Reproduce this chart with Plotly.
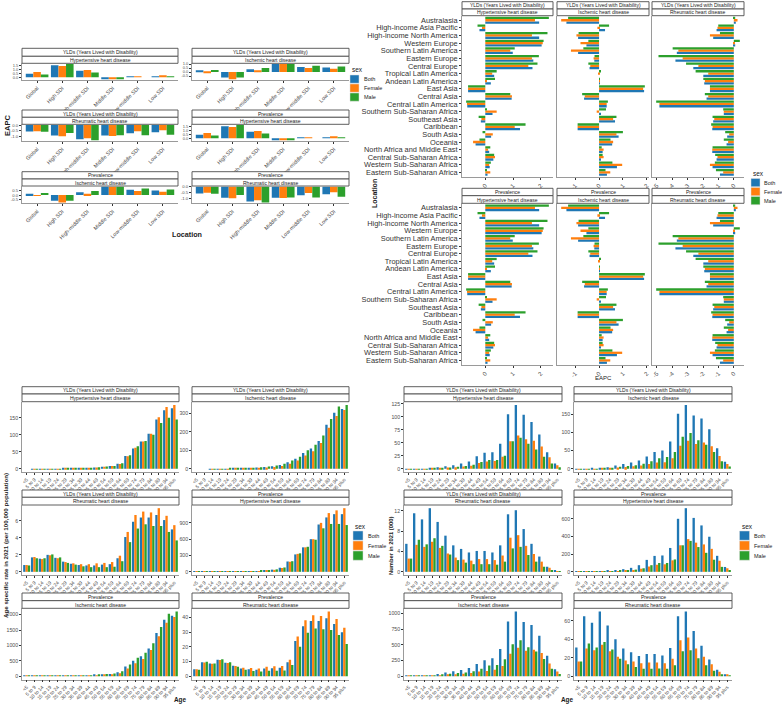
import plotly.graph_objects as go
import numpy as np

W, H = 782, 705
FONT = "Liberation Sans, Arial, Helvetica, sans-serif"
SEX = ["Both", "Female", "Male"]
SEX_COLORS = ["#1F77B4", "#FF7F0E", "#2CA02C"]

# ---------------- Panel A : EAPC by SDI ----------------
SDI = ["Global", "High SDI", "High-middle SDI", "Middle SDI", "Low-middle SDI", "Low SDI"]
a_yld_hhd_both = [0.45, 1.50, 0.80, -0.25, 0.05, 0.10]
a_yld_hhd_female = [0.65, 1.40, 0.90, -0.25, 0.10, 0.20]
a_yld_hhd_male = [0.35, 1.65, 0.60, -0.25, 0.00, 0.05]
a_yld_ihd_both = [0.15, -0.68, 0.34, 1.00, 0.64, 0.56]
a_yld_ihd_female = [-0.05, -0.90, 0.15, 1.00, 0.50, 0.41]
a_yld_ihd_male = [0.26, -0.68, 0.50, 1.00, 0.79, 0.68]
a_yld_rhd_both = [-0.55, -0.90, -1.22, -0.90, -0.70, -0.62]
a_yld_rhd_female = [-0.52, -0.95, -1.12, -0.93, -0.52, -0.45]
a_yld_rhd_male = [-0.57, -0.68, -1.30, -0.88, -0.88, -0.82]
a_prev_hhd_both = [0.45, 1.50, 0.80, -0.25, 0.05, 0.10]
a_prev_hhd_female = [0.65, 1.40, 0.90, -0.25, 0.10, 0.20]
a_prev_hhd_male = [0.35, 1.65, 0.60, -0.25, 0.00, 0.05]
a_prev_ihd_both = [0.15, -0.68, 0.34, 1.00, 0.64, 0.56]
a_prev_ihd_female = [-0.05, -0.90, 0.15, 1.00, 0.50, 0.41]
a_prev_ihd_male = [0.26, -0.68, 0.50, 1.00, 0.79, 0.68]
a_prev_rhd_both = [-0.55, -0.90, -1.22, -0.90, -0.70, -0.62]
a_prev_rhd_female = [-0.50, -0.95, -1.12, -0.93, -0.52, -0.45]
a_prev_rhd_male = [-0.57, -0.68, -1.30, -0.88, -0.88, -0.82]

# ---------------- Panel B : EAPC by region ----------------
REGIONS = ["Australasia", "High-income Asia Pacific", "High-income North America", "Western Europe",
           "Southern Latin America", "Eastern Europe", "Central Europe", "Tropical Latin America",
           "Andean Latin America", "East Asia", "Central Asia", "Central Latin America",
           "Southern Sub-Saharan Africa", "Southeast Asia", "Caribbean", "South Asia", "Oceania",
           "North Africa and Middle East", "Central Sub-Saharan Africa", "Western Sub-Saharan Africa",
           "Eastern Sub-Saharan Africa"]
b_hhd_both = [1.94, -0.21, 1.94, 2.03, 0.99, 1.73, 1.70, 0.32, 0.20, -0.62, 0.95, -0.65, 0.26, -0.16, 1.25, 0.21, -0.35, 0.14, 0.29, 0.16, 0.08]
b_hhd_female = [1.79, -0.12, 1.68, 2.07, 0.90, 1.68, 1.55, 0.25, 0.06, -0.62, 0.96, -0.66, 0.41, -0.14, 1.06, 0.27, -0.44, 0.10, 0.35, 0.14, 0.18]
b_hhd_male = [2.29, -0.28, 2.24, 2.10, 1.06, 1.93, 1.88, 0.41, 0.35, -0.62, 0.90, -0.69, 0.06, -0.24, 1.45, -0.10, -0.21, 0.18, 0.32, 0.20, 0.06]
b_ihd_both = [-1.37, 0.25, -0.88, -0.53, -0.88, -0.20, -0.40, 0.00, 0.02, 1.89, -0.63, 0.32, 0.07, 0.67, -0.90, 0.82, 0.55, 0.15, 0.07, 0.75, 0.33]
b_ihd_female = [-1.59, -0.07, -0.95, -0.78, -1.18, -0.23, -0.37, -0.03, 0.01, 1.85, -0.60, 0.32, -0.10, 0.59, -0.90, 0.73, 0.59, 0.19, 0.19, 0.97, 0.47]
b_ihd_male = [-1.30, 0.42, -0.86, -0.45, -0.66, -0.19, -0.45, 0.04, 0.02, 1.92, -0.71, 0.37, 0.29, 0.73, -0.90, 1.00, 0.48, 0.11, 0.15, 0.56, 0.27]
b_rhd_both = [0.13, -1.12, -1.34, 0.09, -3.70, -3.79, -2.63, -1.98, -1.92, -1.55, -1.77, -4.83, -0.65, -1.34, -1.40, -0.43, -0.47, -1.40, -1.12, -1.38, -0.90]
b_rhd_female = [0.24, -1.06, -1.55, 0.04, -3.60, -3.32, -2.30, -1.66, -1.88, -1.55, -1.66, -4.83, -0.65, -1.27, -1.38, -0.30, -0.37, -1.40, -1.06, -1.55, -0.69]
b_rhd_male = [0.09, -1.01, -0.90, 0.39, -3.97, -4.89, -3.10, -2.48, -1.98, -1.55, -1.88, -5.04, -0.69, -1.38, -1.47, -0.56, -0.65, -1.38, -1.21, -1.23, -1.16]

# ---------------- Panels C and D : by age ----------------
AGES = ["<5", "5 to 9", "10 to 14", "15 to 19", "20 to 24", "25 to 29", "30 to 34", "35 to 39",
        "40 to 44", "45 to 49", "50 to 54", "55 to 59", "60 to 64", "65 to 69", "70 to 74",
        "75 to 79", "80 to 84", "85 to 89", "90 to 94", "95 plus"]
# rates per 100,000
c_yld_hhd_both = [0.02, 0.03, 0.05, 0.1, 0.2, 0.4, 0.8, 1.5, 2.5, 4, 6, 8, 15, 38, 60, 80, 103, 145, 172, 178]
c_yld_hhd_female = [0.02, 0.03, 0.05, 0.1, 0.2, 0.4, 0.8, 1.5, 2.5, 4, 6, 8, 14, 37, 62, 80, 103, 152, 182, 188]
c_yld_hhd_male = [0.02, 0.03, 0.05, 0.1, 0.2, 0.4, 0.8, 1.5, 2.6, 4.5, 6.5, 8.5, 16, 40, 66, 82, 100, 135, 150, 145]
c_yld_ihd_both = [0.05, 0.05, 0.1, 0.2, 0.5, 1, 2, 4, 7, 10, 14, 20, 35, 55, 85, 110, 150, 238, 304, 324]
c_yld_ihd_female = [0.05, 0.05, 0.1, 0.2, 0.4, 0.8, 1.5, 3, 5, 7, 10, 15, 28, 45, 72, 95, 140, 222, 286, 319]
c_yld_ihd_male = [0.05, 0.05, 0.1, 0.2, 0.6, 1.2, 2.5, 5, 9, 13, 18, 27, 45, 65, 100, 130, 180, 270, 337, 346]
c_yld_rhd_both = [0.8, 1.7, 1.55, 2.0, 1.65, 1.2, 0.95, 0.8, 0.75, 0.75, 0.85, 0.9, 1.6, 4.1, 5.9, 6.4, 6.4, 6.7, 6.1, 5.0]
c_yld_rhd_female = [0.8, 1.75, 1.5, 1.95, 1.6, 1.15, 1.0, 0.9, 0.9, 1.0, 1.05, 1.15, 1.9, 4.7, 6.7, 7.1, 7.0, 7.5, 6.6, 5.5]
c_yld_rhd_male = [0.75, 1.6, 1.6, 2.05, 1.7, 1.05, 0.85, 0.65, 0.55, 0.55, 0.55, 0.6, 1.25, 3.5, 5.1, 5.6, 5.4, 5.4, 4.7, 3.7]
c_prev_hhd_both = [0.1, 0.1, 0.2, 0.5, 1, 2, 4, 8, 15, 25, 40, 75, 190, 320, 450, 600, 870, 1000, 1060, 1060]
c_prev_hhd_female = [0.1, 0.1, 0.2, 0.4, 1, 2, 3.5, 7, 13, 22, 36, 70, 185, 330, 450, 600, 900, 1080, 1130, 1170]
c_prev_hhd_male = [0.1, 0.1, 0.2, 0.5, 1, 2, 4.5, 9, 17, 28, 45, 80, 195, 340, 460, 590, 800, 880, 880, 860]
c_prev_ihd_both = [0.5, 0.5, 0.6, 1, 2, 4, 7, 12, 20, 35, 55, 70, 130, 320, 500, 650, 900, 1400, 1830, 1960]
c_prev_ihd_female = [0.5, 0.5, 0.6, 0.8, 1.5, 3, 5, 8, 15, 25, 40, 55, 100, 250, 420, 560, 850, 1300, 1740, 1920]
c_prev_ihd_male = [0.5, 0.5, 0.6, 1.2, 2.5, 5, 9, 15, 28, 45, 70, 90, 160, 380, 600, 760, 1070, 1600, 2030, 2100]
c_prev_rhd_both = [4.7, 9.5, 8.6, 11.2, 9.2, 7.2, 5.3, 4.8, 4.4, 5.2, 5.5, 5.8, 9.5, 24, 34, 37.5, 37.5, 39.5, 35.5, 30]
c_prev_rhd_female = [4.8, 9.3, 8.5, 11.1, 9.0, 7.0, 5.8, 5.6, 5.3, 6.4, 6.8, 7.0, 11.2, 27, 38, 41.5, 41, 44, 39, 33]
c_prev_rhd_male = [4.5, 9.9, 8.7, 11.6, 9.5, 6.5, 4.5, 3.6, 3.3, 3.8, 3.8, 4.0, 7.6, 20, 29.5, 32.5, 32, 31.5, 28, 22]
# numbers in thousands
d_yld_hhd_both = [0.05, 0.05, 0.2, 1, 3, 5, 7, 10, 14, 24, 31, 32, 48, 105, 123, 104, 90, 66, 32, 10]
d_yld_hhd_female = [0.02, 0.02, 0.1, 0.5, 1.3, 2.3, 3, 4.5, 6, 11, 14, 15, 23, 53, 64, 57, 54, 43, 22, 7]
d_yld_hhd_male = [0.03, 0.03, 0.1, 0.5, 1.7, 2.7, 4, 5.5, 8, 13, 17, 17, 25, 53, 60, 48, 37, 23, 10, 3]
d_yld_ihd_both = [0.2, 0.2, 0.3, 1, 4, 9, 13, 17, 23, 34, 46, 50, 75, 151, 175, 146, 138, 108, 56, 19]
d_yld_ihd_female = [0.1, 0.1, 0.1, 0.4, 1.5, 3.5, 5, 7, 9, 13, 17, 18, 29, 63, 77, 68, 72, 62, 35, 13]
d_yld_ihd_male = [0.1, 0.1, 0.2, 0.6, 2.5, 5.5, 8, 10, 14, 21, 29, 32, 46, 88, 98, 78, 66, 46, 21, 6]
d_yld_rhd_both = [5.5, 11.5, 10.3, 12.5, 9.8, 7.1, 5.2, 4.5, 3.8, 4.1, 4.1, 3.8, 5.2, 11.3, 12.1, 8.4, 5.5, 3.0, 1.0, 0.2]
d_yld_rhd_female = [2.6, 5.3, 4.9, 5.9, 4.7, 3.6, 2.8, 2.4, 2.2, 2.5, 2.5, 2.3, 3.2, 6.7, 7.2, 5.1, 3.5, 2.0, 0.8, 0.15]
d_yld_rhd_male = [2.6, 6.3, 5.4, 6.6, 5.1, 3.4, 2.3, 1.8, 1.5, 1.5, 1.5, 1.4, 2.0, 4.6, 4.9, 3.3, 2.0, 1.0, 0.3, 0.05]
d_prev_hhd_both = [0.1, 0.1, 0.5, 3, 10, 18, 30, 45, 75, 135, 180, 185, 270, 600, 720, 610, 525, 397, 181, 55]
d_prev_hhd_female = [0.05, 0.05, 0.2, 1.3, 4, 8, 13, 20, 35, 60, 80, 85, 130, 300, 370, 330, 310, 260, 125, 40]
d_prev_hhd_male = [0.05, 0.05, 0.3, 1.7, 6, 10, 17, 25, 40, 75, 100, 100, 140, 300, 350, 280, 215, 137, 56, 15]
d_prev_ihd_both = [3, 3, 5, 10, 35, 60, 80, 100, 130, 195, 255, 285, 435, 870, 1030, 865, 815, 645, 325, 110]
d_prev_ihd_female = [1.5, 1.5, 2.5, 4, 13, 20, 30, 40, 50, 75, 85, 105, 165, 360, 455, 405, 420, 370, 205, 75]
d_prev_ihd_male = [1.5, 1.5, 2.5, 6, 22, 40, 50, 60, 80, 120, 170, 180, 270, 510, 575, 460, 395, 275, 120, 35]
d_prev_rhd_both = [31, 65, 58, 70, 55, 40, 30, 26, 22, 24, 24, 22.5, 30.5, 65, 70, 49, 33, 18, 7, 2]
d_prev_rhd_female = [16, 30, 28, 34, 27, 21, 17, 16, 14, 15, 15, 14, 19, 39, 42, 30, 21, 13, 5, 1.5]
d_prev_rhd_male = [16, 35.5, 31, 37, 29, 19, 13, 10, 8, 8, 8.5, 8, 12, 27, 28, 19.5, 12, 6, 2, 0.5]

YLD = "YLDs (Years Lived with Disability)"
PREV = "Prevalence"
HHD = "Hypertensive heart disease"
IHD = "Ischemic heart disease"
RHD = "Rheumatic heart disease"

# ---------------------------------------------------------------
fig = go.Figure()
layout = dict(width=W, height=H, margin=dict(l=0, r=0, t=0, b=0),
              paper_bgcolor="white", plot_bgcolor="white",
              barmode="group", bargap=0.1, bargroupgap=0.0, showlegend=False,
              font=dict(family=FONT, color="#4d4d4d"))
shapes = []
annotations = []
axn = [0]
TICKCOL = "#4d4d4d"


def fmt(v):
    return ("%g" % v) if float(v).is_integer() or abs(v) >= 10 else ("%.1f" % v)


def new_axes(x0, x1, y0, y1, xcfg, ycfg):
    axn[0] += 1
    n = axn[0]
    s = "" if n == 1 else str(n)
    base = dict(showgrid=False, zeroline=False, showline=True, linecolor="#9a9a9a", linewidth=0.8,
                ticks="outside", ticklen=2, tickwidth=0.6, tickcolor="#333333", fixedrange=True,
                automargin=False)
    xa = dict(base)
    xa.update(domain=[x0 / W, x1 / W], anchor="y" + s)
    xa.update(xcfg)
    ya = dict(base)
    ya.update(domain=[1 - y1 / H, 1 - y0 / H], anchor="x" + s)
    ya.update(ycfg)
    layout["xaxis" + s] = xa
    layout["yaxis" + s] = ya
    return "x" + s, "y" + s


def add_strips(x0, x1, ys, texts, size=5):
    for (ya, yb), t in zip(ys, texts):
        shapes.append(dict(type="rect", xref="paper", yref="paper", x0=x0 / W, x1=x1 / W,
                           y0=1 - yb / H, y1=1 - ya / H, line=dict(color="#4d4d4d", width=0.9),
                           fillcolor="white", layer="above"))
        annotations.append(dict(x=(x0 + x1) / 2 / W, y=1 - (ya + yb) / 2 / H, xref="paper", yref="paper",
                                text=t, showarrow=False, font=dict(size=size, color="#1a1a1a"),
                                xanchor="center", yanchor="middle"))


def data_range(series):
    allv = np.concatenate([np.asarray(v, float) for v in series])
    lo = min(0.0, allv.min())
    hi = max(0.0, allv.max())
    sp = hi - lo
    return [lo - 0.05 * sp, hi + 0.05 * sp]


def vbar_facet(x0, x1, rows, texts, cats, series, ytv, xfont=5, yfont=5, ytt=None):
    (s1, s2, p) = rows
    add_strips(x0, x1, [s1, s2], texts)
    n = len(cats)
    xr, yr = new_axes(x0, x1, p[0], p[1],
                      dict(type="category", categoryorder="array", categoryarray=cats,
                           range=[-0.6, n - 0.4], tickmode="array", tickvals=cats, ticktext=cats,
                           tickangle=-45, tickfont=dict(size=xfont, color=TICKCOL)),
                      dict(range=data_range(series), tickmode="array", tickvals=ytv,
                           ticktext=ytt if ytt else [fmt(v) for v in ytv],
                           tickfont=dict(size=yfont, color=TICKCOL)))
    for name, vals, col in zip(SEX, series, SEX_COLORS):
        fig.add_trace(go.Bar(x=cats, y=vals, name=name, marker=dict(color=col, line=dict(width=0)),
                             xaxis=xr, yaxis=yr, showlegend=False))


def draw_legend(px, py_title, key_y0, key_h, key_w, text_x, title_size=6.5, size=5.5):
    annotations.append(dict(x=px / W, y=1 - py_title / H, xref="paper", yref="paper", text="sex",
                            showarrow=False, xanchor="left", yanchor="middle",
                            font=dict(size=title_size, color="#1a1a1a")))
    for i, (name, col) in enumerate(zip(SEX, SEX_COLORS)):
        y0 = key_y0 + i * (key_h + 0.8)
        shapes.append(dict(type="rect", xref="paper", yref="paper", x0=px / W, x1=(px + key_w) / W,
                           y0=1 - (y0 + key_h) / H, y1=1 - y0 / H, fillcolor=col,
                           line=dict(color="#dddddd", width=0.5)))
        annotations.append(dict(x=text_x / W, y=1 - (y0 + key_h / 2) / H, xref="paper", yref="paper",
                                text=name, showarrow=False, xanchor="left", yanchor="middle",
                                font=dict(size=size, color="#1a1a1a")))


def title(text, x, y, size, bold=True, angle=0):
    annotations.append(dict(x=x / W, y=1 - y / H, xref="paper", yref="paper",
                            text="<b>%s</b>" % text if bold else text, showarrow=False,
                            xanchor="center", yanchor="middle", textangle=angle,
                            font=dict(size=size, color="#1a1a1a")))


# ---------------- Panel A ----------------
A_COLS = [(22, 178), (192, 349)]
A_ROWS = [((48.3, 56.3), (56.3, 63.3), (63.3, 80)),
          ((110, 117.3), (117.3, 124.3), (124.3, 141)),
          ((171.7, 179), (179, 186), (186, 203.3))]
A_FACETS = [
    ([YLD, HHD], [a_yld_hhd_both, a_yld_hhd_female, a_yld_hhd_male], [0, 0.5, 1, 1.5]),
    ([YLD, IHD], [a_yld_ihd_both, a_yld_ihd_female, a_yld_ihd_male], [-0.5, 0, 0.5, 1]),
    ([YLD, RHD], [a_yld_rhd_both, a_yld_rhd_female, a_yld_rhd_male], [-1, -0.5, 0]),
    ([PREV, HHD], [a_prev_hhd_both, a_prev_hhd_female, a_prev_hhd_male], [0, 0.5, 1, 1.5]),
    ([PREV, IHD], [a_prev_ihd_both, a_prev_ihd_female, a_prev_ihd_male], [-0.5, 0, 0.5]),
    ([PREV, RHD], [a_prev_rhd_both, a_prev_rhd_female, a_prev_rhd_male], [-1, -0.5, 0]),
]
for k, (txt, ser, ytv) in enumerate(A_FACETS):
    r, c = divmod(k, 2)
    yf = 4.0 if len(ytv) == 4 else 4.3
    vbar_facet(A_COLS[c][0], A_COLS[c][1], A_ROWS[r], txt, SDI, ser, ytv,
               xfont=5.4, yfont=yf, ytt=["%.1f" % v for v in ytv])
title("EAPC", 7, 126, 7.5, angle=-90)
title("Location", 187, 235, 7.2)
draw_legend(350, 69, 75, 8.2, 9, 361.5)

# ---------------- Panel B ----------------
B_COLS = [(462, 553), (557, 649), (652, 744)]
B_ROWS = [((1.7, 9), (9, 15.7), (15.7, 177)), ((188.3, 195.7), (195.7, 203.3), (203.3, 365))]
B_DATA = [[b_hhd_both, b_hhd_female, b_hhd_male],
          [b_ihd_both, b_ihd_female, b_ihd_male],
          [b_rhd_both, b_rhd_female, b_rhd_male]]
B_XT = [[0, 1, 2], [-1, 0, 1, 2], [-5, -4, -3, -2, -1, 0]]
B_DIS = [HHD, IHD, RHD]
B_MEAS = [YLD, PREV]
yorder = REGIONS[::-1]
for r in range(2):
    for c in range(3):
        x0, x1 = B_COLS[c]
        s1, s2, p = B_ROWS[r]
        add_strips(x0, x1, [s1, s2], [B_MEAS[r], B_DIS[c]])
        ser = B_DATA[c]
        xr, yr = new_axes(x0, x1, p[0], p[1],
                          dict(range=data_range(ser), tickmode="array", tickvals=B_XT[c],
                               ticktext=[str(v) for v in B_XT[c]], tickangle=-45,
                               tickfont=dict(size=6, color=TICKCOL)),
                          dict(type="category", categoryorder="array", categoryarray=yorder,
                               range=[-0.6, len(REGIONS) - 0.4], tickmode="array", tickvals=yorder,
                               ticktext=yorder, showticklabels=(c == 0),
                               ticks="outside" if c == 0 else "",
                               tickfont=dict(size=7.4, color="#333333")))
        for name, vals, col in zip(SEX, ser, SEX_COLORS):
            fig.add_trace(go.Bar(x=vals, y=REGIONS, orientation="h", name=name,
                                 marker=dict(color=col, line=dict(width=0)),
                                 xaxis=xr, yaxis=yr, showlegend=False))
title("Location", 375, 194, 7, angle=-90)
title("EAPC", 603, 378, 6, bold=False)
draw_legend(751, 173, 178.5, 8.2, 9, 762)

# ---------------- Panels C & D ----------------
AGE_ROWS = [((386.7, 394), (394, 401.7), (401.7, 472)),
            ((490, 497.3), (497.3, 505), (505, 575)),
            ((593, 600.7), (600.7, 608.3), (608.3, 679.5))]
C_COLS = [(22, 179), (192, 349)]
D_COLS = [(404, 562), (574, 732)]
C_FACETS = [
    ([YLD, HHD], [c_yld_hhd_both, c_yld_hhd_female, c_yld_hhd_male], [0, 50, 100, 150]),
    ([YLD, IHD], [c_yld_ihd_both, c_yld_ihd_female, c_yld_ihd_male], [0, 100, 200, 300]),
    ([YLD, RHD], [c_yld_rhd_both, c_yld_rhd_female, c_yld_rhd_male], [0, 2, 4, 6]),
    ([PREV, HHD], [c_prev_hhd_both, c_prev_hhd_female, c_prev_hhd_male], [0, 300, 600, 900]),
    ([PREV, IHD], [c_prev_ihd_both, c_prev_ihd_female, c_prev_ihd_male], [0, 500, 1000, 1500, 2000]),
    ([PREV, RHD], [c_prev_rhd_both, c_prev_rhd_female, c_prev_rhd_male], [0, 10, 20, 30, 40]),
]
D_FACETS = [
    ([YLD, HHD], [d_yld_hhd_both, d_yld_hhd_female, d_yld_hhd_male], [0, 25, 50, 75, 100, 125]),
    ([YLD, IHD], [d_yld_ihd_both, d_yld_ihd_female, d_yld_ihd_male], [0, 50, 100, 150]),
    ([YLD, RHD], [d_yld_rhd_both, d_yld_rhd_female, d_yld_rhd_male], [0, 4, 8, 12]),
    ([PREV, HHD], [d_prev_hhd_both, d_prev_hhd_female, d_prev_hhd_male], [0, 200, 400, 600]),
    ([PREV, IHD], [d_prev_ihd_both, d_prev_ihd_female, d_prev_ihd_male], [0, 250, 500, 750, 1000]),
    ([PREV, RHD], [d_prev_rhd_both, d_prev_rhd_female, d_prev_rhd_male], [0, 20, 40, 60]),
]
for facets, cols in ((C_FACETS, C_COLS), (D_FACETS, D_COLS)):
    for k, (txt, ser, ytv) in enumerate(facets):
        r, c = divmod(k, 2)
        vbar_facet(cols[c][0], cols[c][1], AGE_ROWS[r], txt, AGES, ser, ytv, xfont=4.9, yfont=5.2)

title("Age specific rate in 2021 (per 100,000 population)", 5, 546, 6.2, angle=-90)
title("Number in 2021 (000)", 391, 546, 5.8, angle=-90)
title("Age", 180, 700, 6.4)
title("Age", 567, 700, 6.4)
draw_legend(353, 526, 531, 9.2, 10, 365.5)
draw_legend(739.5, 526, 531, 9.2, 10, 751.5)

layout["shapes"] = shapes
layout["annotations"] = annotations
fig.update_layout(**layout)
fig.write_html("out.html")
